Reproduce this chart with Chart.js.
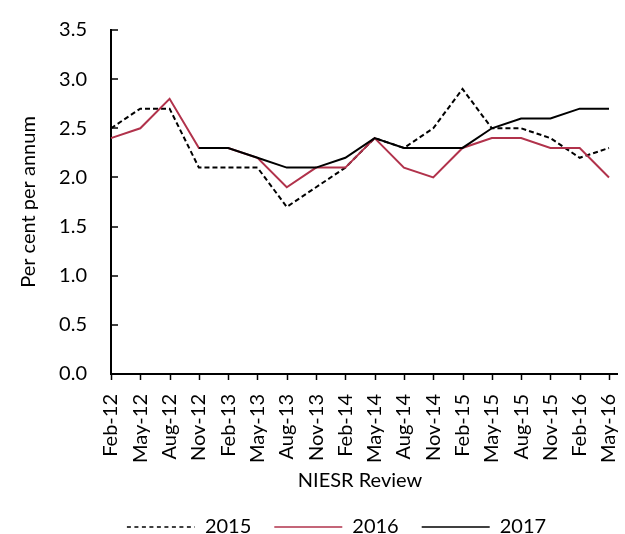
<!DOCTYPE html>
<html>
<head>
<meta charset="utf-8">
<script src="https://cdn.jsdelivr.net/npm/chart.js@4"></script>
<style>
  body { margin: 0; background: #fff; }
  #wrap { width: 625px; height: 534px; position: relative; }
</style>
</head>
<body>
<div id="wrap"><canvas id="chart"></canvas></div>
<script>
// forecasts of GDP growth by NIESR Review date
let reviews = ['Feb-12','May-12','Aug-12','Nov-12','Feb-13','May-13','Aug-13','Nov-13','Feb-14',
  'May-14','Aug-14','Nov-14','Feb-15','May-15','Aug-15','Nov-15','Feb-16','May-16'];
let fc2015 = [2.5,2.7,2.7,2.1,2.1,2.1,1.7,1.9,2.1,2.4,2.3,2.5,2.9,2.5,2.5,2.4,2.2,2.3];
let fc2016 = [2.4,2.5,2.8,2.3,2.3,2.2,1.9,2.1,2.1,2.4,2.1,2.0,2.3,2.4,2.4,2.3,2.3,2.0];
let fc2017 = [null,null,null,2.3,2.3,2.2,2.1,2.1,2.2,2.4,2.3,2.3,2.3,2.5,2.6,2.6,2.7,2.7];
let yMin = 0, yMax = 3.5, yStep = 0.5;

let red = '#B1324B';
let clear = 'rgba(0,0,0,0)';

Chart.defaults.font.family = 'Lato';
Chart.defaults.font.size = 20;
Chart.defaults.color = '#000';

// excel style: x axis runs a bit past the last point, y ticks point inwards,
// x ticks short and outwards, legend sits a bit right of centre
let excelBits = {
  id: 'excelBits',
  afterLayout(chart) {
    chart.legend.left += 32;
    chart.legend.right += 32;
  },
  afterDraw(chart) {
    let ctx = chart.ctx, a = chart.chartArea, x = chart.scales.x, y = chart.scales.y;
    ctx.save();
    ctx.strokeStyle = '#000';
    ctx.lineWidth = 2;
    ctx.beginPath();
    ctx.moveTo(a.right, a.bottom);
    ctx.lineTo(a.right + 9, a.bottom);
    ctx.stroke();
    ctx.lineWidth = 1.5;
    y.ticks.forEach(t => {
      let py = Math.round(y.getPixelForValue(t.value));
      ctx.beginPath();
      ctx.moveTo(a.left, py);
      ctx.lineTo(a.left + 7, py);
      ctx.stroke();
    });
    x.ticks.forEach((t, i) => {
      let px = Math.round(x.getPixelForTick(i)) + 0.5;
      ctx.beginPath();
      ctx.moveTo(px, a.bottom);
      ctx.lineTo(px, a.bottom + 6);
      ctx.stroke();
    });
    ctx.restore();
  }
};

let graph = document.getElementById('chart').getContext('2d');
var chart = new Chart(graph, {
  type: 'line',
  data: {
    labels: reviews,
    datasets: [
      { label: '2015', data: fc2015, borderColor: '#000', backgroundColor: '#000',
        borderDash: [5, 3], borderWidth: 2, order: 2 },
      { label: '2016', data: fc2016, borderColor: red, backgroundColor: red,
        borderWidth: 2, order: 1 },
      { label: '2017', data: fc2017, borderColor: '#000', backgroundColor: '#000',
        borderWidth: 2, order: 0 }
    ]
  },
  options: {
    responsive: true,
    maintainAspectRatio: false,
    animation: false,
    layout: { padding: { left: 0, right: 16, top: 30, bottom: -13 } },
    elements: {
      point: { radius: 0, hoverRadius: 0 },
      line: { tension: 0 }
    },
    plugins: {
      tooltip: { enabled: false },
      legend: {
        position: 'bottom',
        labels: {
          usePointStyle: true,
          pointStyle: 'line',
          pointStyleWidth: 68,
          padding: 23,
          color: '#000',
          generateLabels(chart) {
            let items = Chart.defaults.plugins.legend.labels.generateLabels(chart);
            items.forEach(it => {
              let ds = chart.data.datasets[it.datasetIndex];
              it.lineDash = ds.borderDash ? [4, 3.5] : [];
              it.strokeStyle = ds.borderColor;
              it.lineWidth = 1.5;
            });
            return items;
          },
          sort: (a, b) => a.datasetIndex - b.datasetIndex
        }
      }
    },
    scales: {
      x: {
        offset: false,
        grid: { drawOnChartArea: false, tickLength: 20, color: clear },
        border: { color: '#000', width: 2 },
        ticks: { autoSkip: false, minRotation: 90, maxRotation: 90, padding: 0, color: '#000' },
        title: { display: true, text: 'NIESR Review', padding: { top: 0, bottom: 1 }, color: '#000' },
        afterFit(scale) {
          scale.height = 120;
          scale.paddingRight = 0;
        }
      },
      y: {
        min: yMin,
        max: yMax,
        grid: { drawOnChartArea: false, tickLength: 24, color: clear },
        border: { color: '#000', width: 2 },
        ticks: { stepSize: yStep, padding: 0, color: '#000', callback: v => v.toFixed(1) },
        title: { display: true, text: 'Per cent per annum', padding: { top: 17, bottom: 0 }, color: '#000' },
        afterFit(scale) { scale.width = 111; }
      }
    }
  },
  plugins: [excelBits]
});
</script>
</body>
</html>
